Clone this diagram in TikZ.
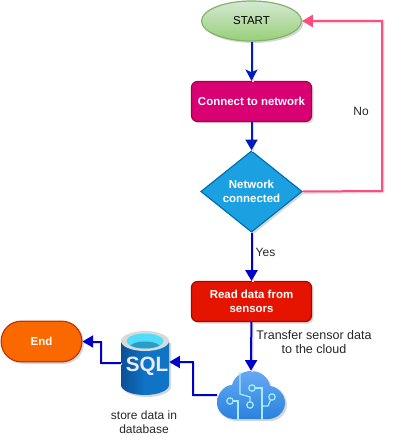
\documentclass[tikz,border=0pt]{standalone}
\usepackage{fontspec}
\setmainfont{Liberation Sans}
\usetikzlibrary{shapes.geometric,arrows.meta,positioning,shadows}
\definecolor{starttop}{HTML}{D5E8D4}
\definecolor{startlow}{HTML}{97D077}
\definecolor{startline}{HTML}{82B366}
\definecolor{connectfill}{HTML}{D80073}
\definecolor{connectline}{HTML}{A50040}
\definecolor{decidefill}{HTML}{1BA1E2}
\definecolor{decideline}{HTML}{006EAF}
\definecolor{readfill}{HTML}{E51400}
\definecolor{readline}{HTML}{B20000}
\definecolor{endfill}{HTML}{FA6800}
\definecolor{endline}{HTML}{C73500}
\definecolor{flowblue}{HTML}{0000CC}
\definecolor{flowroyal}{HTML}{001DBC}
\definecolor{flowpink}{HTML}{FF4D7D}
\definecolor{cloudtop}{HTML}{66A9F2}
\definecolor{cloudlow}{HTML}{2B82DE}
\definecolor{circuit}{HTML}{A6EEFF}
\definecolor{sqllight}{HTML}{0F74C6}
\definecolor{sqldark}{HTML}{0A4F96}
\definecolor{sqlcyan}{HTML}{50DCFA}
\definecolor{sqlwater}{HTML}{2A9CC8}
\tikzset{
  x=0.75pt,y=-0.75pt,
  softshadow/.style={drop shadow={shadow xshift=1.5pt,shadow yshift=-1.5pt,fill=black!35,opacity=0.45}},
  stepbox/.style={draw,rounded corners=4.5pt,line width=0.9pt,minimum width=90pt,minimum height=30pt,align=center,font=\bfseries\fontsize{8.6}{10.5}\selectfont,text=white,softshadow},
  flow/.style={-{Triangle[length=8pt,width=9pt]},line width=1.5pt,draw=flowblue,preaction={draw=black!13,line width=1.5pt,-,transform canvas={shift={(1pt,-1pt)}}}},
  note/.style={font=\fontsize{9}{10.5}\selectfont,align=center,text=black!85}
}
\begin{document}
\begin{tikzpicture}
  \useasboundingbox (0,0) rectangle (403,448);
  \node[ellipse,draw=startline,top color=starttop,bottom color=startlow,line width=0.9pt,minimum width=75pt,minimum height=30pt,inner sep=0pt,font=\fontsize{8.6}{10.5}\selectfont,softshadow] (start) at (251.5,21) {START};
  \node[stepbox,fill=connectfill,draw=connectline] (connect) at (251.5,101.5) {Connect to network};
  \node[diamond,draw=decideline,fill=decidefill,line width=0.9pt,minimum width=76pt,minimum height=61pt,inner sep=0pt,align=center,text=white,font=\bfseries\fontsize{8.6}{10.5}\selectfont,softshadow] (decide) at (251.5,191.5) {Network\\connected};
  \node[stepbox,fill=readfill,draw=readline] (read) at (251.5,301.5) {Read data from\\sensors};
  \node[rounded corners=15pt,draw=endline,fill=endfill,line width=0.9pt,minimum width=60.5pt,minimum height=30.5pt,inner sep=0pt,text=white,font=\bfseries\fontsize{8.6}{10.5}\selectfont,softshadow] (end) at (41.5,341.5) {End};

  % sql cylinder
  \node[minimum width=36pt,minimum height=48pt,inner sep=0pt] (sql) at (145,363) {};
  \fill[black!35,opacity=0.45] (123,343) -- (123,387) arc[x radius=24,y radius=10,start angle=180,end angle=0] -- (171,343) -- cycle;
  \path[left color=sqldark,right color=sqllight,middle color=sqllight] (121,341) -- (121,385) arc[x radius=24,y radius=10,start angle=180,end angle=0] -- (169,341) -- cycle;
  \fill[black!15] (145,341) ellipse[x radius=24,y radius=10];
  \fill[sqlcyan] (145,341) ellipse[x radius=18.5,y radius=7.5];
  \begin{scope}
    \clip (145,341) ellipse[x radius=18.5,y radius=7.5];
    \fill[sqlwater] (145,348) ellipse[x radius=16,y radius=6.5];
  \end{scope}
  \node[text=white!92!blue,font=\bfseries\fontsize{15.5}{15.5}\selectfont] (sqltext) at (147,366) {SQL};

  % cloud
  \node[minimum width=51pt,minimum height=36pt,inner sep=0pt] (cloud) at (251,395) {};
  \path[top color=cloudtop,bottom color=cloudlow,softshadow] (235,419)
    .. controls (224,419) and (217,411) .. (217,403)
    .. controls (217,394) and (224,385) .. (232,385)
    .. controls (234,376) and (243,371) .. (251,371)
    .. controls (261,371) and (268,377) .. (270,386)
    .. controls (279,387) and (285,395) .. (285,403)
    .. controls (285,411) and (278,419) .. (268,419) -- cycle;
  \begin{scope}[draw=circuit,line width=0.9pt]
    \draw (240,372) -- (240,394) -- (250,397) -- (250,402);
    \draw (250,405) circle[radius=3.2];
    \draw (255.2,388) -- (262,388) -- (262,419);
    \draw (252,388) circle[radius=3.2];
    \draw (233.2,401) -- (238,401) -- (238,419);
    \draw (230,401) circle[radius=3.2];
    \draw (262,406) -- (268,406) -- (270.5,400);
    \draw (272,397) circle[radius=3.2];
  \end{scope}

  \node[note] (notext) at (361,111) {No};
  \node[note] (yestext) at (265.5,252) {Yes};
  \node[note,font=\fontsize{9.4}{10.5}\selectfont] (transfertext) at (314,342) {Transfer sensor data\\to the cloud};
  \node[note] (storetext) at (144,422) {store data in\\database};

  \coordinate (loopa) at (382,191);
  \coordinate (loopb) at (382,21);
  \coordinate (sqlbenda) at (193,395);
  \coordinate (sqlbendb) at (193,362);
  \coordinate (endbenda) at (101,363);
  \coordinate (endbendb) at (101,341.5);

  \draw[flow,draw=flowroyal,-{Stealth[length=8.5pt,width=9pt,inset=2pt]}] (start) -- (connect);
  \draw[flow,draw=flowroyal] (connect) -- (decide);
  \draw[flow] (decide) -- (read);
  \draw[flow] (read) -- (cloud.north);
  \draw[flow] (cloud.west) -- (sqlbenda) -- (sqlbendb) -- (sql.east |- sqlbendb);
  \draw[flow] (sql.west) -- (endbenda) -- (endbendb) -- (end.east |- endbendb);
  \draw[flow,draw=flowpink] (decide.east) -- (loopa) -- (loopb) -- (start.east);
\end{tikzpicture}
\end{document}
